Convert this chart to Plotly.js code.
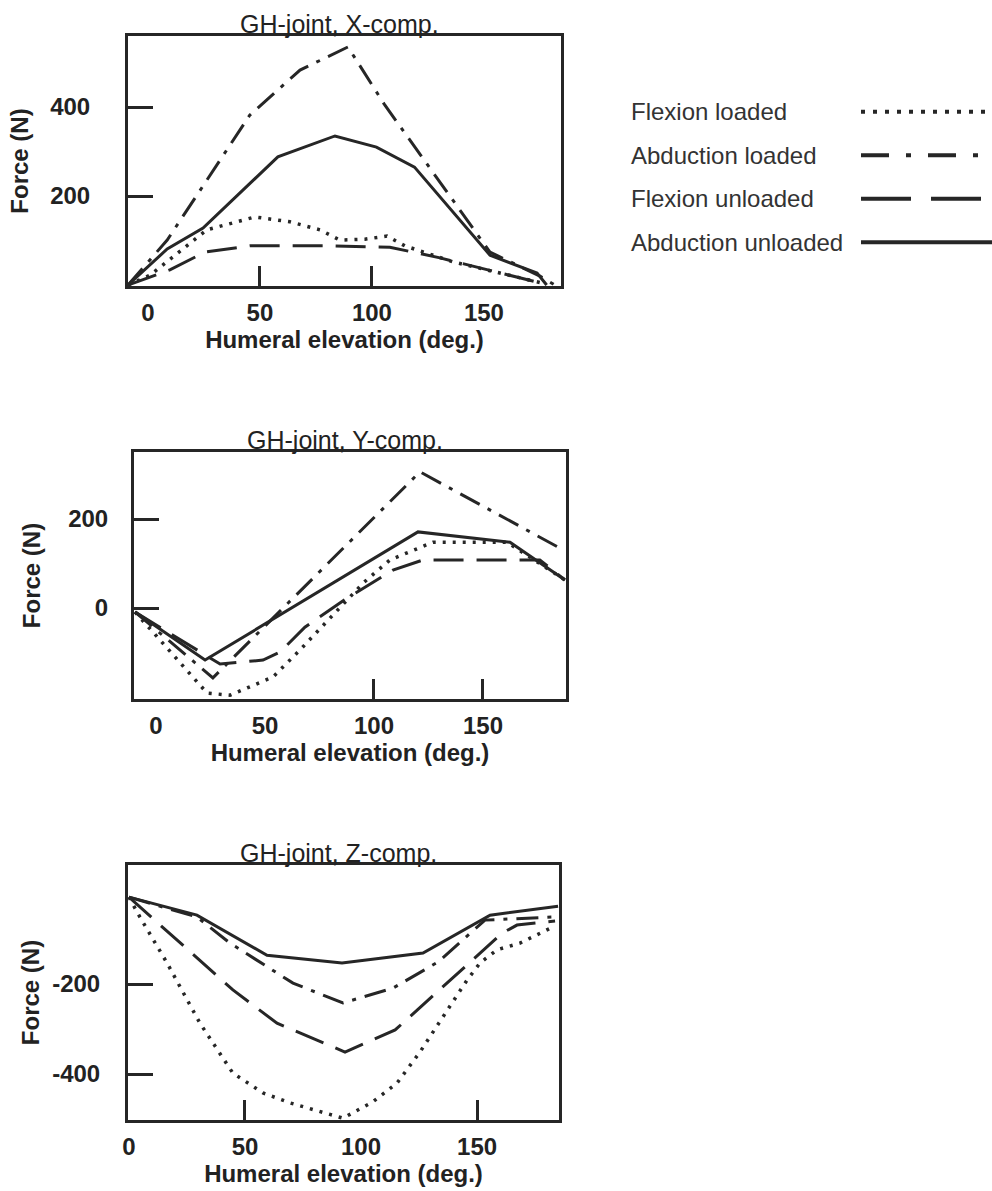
<!DOCTYPE html>
<html><head><meta charset="utf-8">
<script src="https://cdn.plot.ly/plotly-3.0.1.min.js"></script>
<style>html,body{margin:0;padding:0;background:#fff}#chart{width:992px;height:1191px}</style>
</head><body><div id="chart"></div>
<script>
const seriesNames = ["Flexion loaded", "Abduction loaded", "Flexion unloaded", "Abduction unloaded"];
const panelTitles = ["GH-joint, X-comp.", "GH-joint, Y-comp.", "GH-joint, Z-comp."];
const xAxisTitle = "Humeral elevation (deg.)";
const yAxisTitle = "Force (N)";
const xTickVals = [0, 50, 100, 150];
const yTickValsX = [200, 400];
const yTickValsY = [0, 200];
const yTickValsZ = [-400, -200];
const yTickTextZ = ["-400", "-200"];
const xMarkTicksX = [50, 100];
const xMarkTicksY = [100, 150];
const xMarkTicksZ = [50, 150];

// GH-joint, X-component
const xFlexLoadedAngle = [-8.9, 0.9, 26.3, 47.8, 63.4, 76.8, 85.7, 96.9, 106.7, 114.7, 136.2, 157.1, 176.3];
const xFlexLoadedForce = [0, 22, 124, 153, 142, 124, 101, 103, 110, 88, 52, 27, 4];
const xAbdLoadedAngle = [-8.9, 8.6, 45.5, 67.9, 89.3, 105.8, 152.7, 175, 181.7];
const xAbdLoadedForce = [0, 101, 382, 483, 535, 404, 74, 20, 0];
const xFlexUnloadedAngle = [-8.9, 9.8, 25.4, 45.5, 81.3, 108, 130.4, 148.2, 166, 177.2];
const xFlexUnloadedForce = [0, 34, 74, 88, 88, 85, 61, 38, 16, 2];
const xAbdUnloadedAngle = [-8.9, 8.6, 24.6, 58, 83.5, 102, 119, 152.7, 173.7, 178];
const xAbdUnloadedForce = [0, 81, 128, 288, 335, 310, 265, 67, 27, 0];

// GH-joint, Y-component
const yFlexLoadedAngle = [-9.6, 23.4, 33.9, 53.7, 66.1, 95, 107.3, 127.1, 161, 187.6];
const yFlexLoadedForce = [-9, -191, -196, -155, -94, 56, 108, 148, 148, 63];
const yAbdLoadedAngle = [-9.6, 26.1, 121.1, 184.4];
const yAbdLoadedForce = [-9, -157, 306, 137];
const yFlexUnloadedAngle = [-9.6, 29.4, 49.1, 56.9, 68.3, 87.6, 108.7, 122.5, 176.1, 187.6];
const yFlexUnloadedForce = [-9, -126, -117, -99, -43, 22, 85, 108, 108, 63];
const yAbdUnloadedAngle = [-9.6, 22.5, 120.2, 162.4, 187.6];
const yAbdUnloadedForce = [-9, -117, 171, 148, 63];

// GH-joint, Z-component
const zFlexLoadedAngle = [0, 4.7, 16.4, 30.6, 44.8, 57.8, 69.4, 87.9, 92.2, 105, 115.5, 125.4, 135.3, 145.7, 151.3, 158.6, 168.5, 182.8];
const zFlexLoadedForce = [-7, -51, -153, -287, -398, -442, -464, -491, -498, -462, -420, -351, -273, -191, -153, -124, -109, -73];
const zAbdLoadedAngle = [0, 29.3, 43.5, 70.7, 92.2, 113.8, 133.2, 153.4, 183.6];
const zAbdLoadedForce = [-7, -51, -109, -198, -242, -209, -151, -58, -51];
const zFlexUnloadedAngle = [0, 16.8, 44.8, 63.8, 93.1, 114.7, 143.5, 160.8, 167.2, 183.6];
const zFlexUnloadedForce = [-7, -84, -213, -287, -351, -302, -169, -87, -69, -60];
const zAbdUnloadedAngle = [0, 29.3, 59.5, 91.8, 126.7, 155.6, 184.9];
const zAbdUnloadedForce = [-7, -47, -136, -153, -131, -47, -27];

const W = 992, H = 1191;
const FONT = "Liberation Sans, Arial, sans-serif";
const LC = "#262626";
const TC = "#222222";
const lineDash = ["3px,7px", "22px,9px,4px,9px", "30px,13px", "solid"];
const lineWidth = [3.5, 3, 3, 3];
const legendDash = ["4px,8px", "28px,17px,5px,17px", "50px,20px", "solid"];

const fx = p => p / W;
const fy = p => 1 - p / H;

const panels = [
  {xa: "x", ya: "y", frame: [128, 561, 36, 286], xr: [-8.9, 184.4], yr: [-2.2, 559.6], yt: yTickValsX, ytt: null, mt: xMarkTicksX, titleX: 339, ylabStand: 30, ytitleStand: 15,
   data: [[xFlexLoadedAngle, xFlexLoadedForce], [xAbdLoadedAngle, xAbdLoadedForce], [xFlexUnloadedAngle, xFlexUnloadedForce], [xAbdUnloadedAngle, xAbdUnloadedForce]]},
  {xa: "x2", ya: "y2", frame: [134, 566, 452, 699], xr: [-10.1, 188.1], yr: [-204.5, 350.6], yt: yTickValsY, ytt: null, mt: xMarkTicksY, titleX: 345, ylabStand: 18, ytitleStand: 21,
   data: [[yFlexLoadedAngle, yFlexLoadedForce], [yAbdLoadedAngle, yAbdLoadedForce], [yFlexUnloadedAngle, yFlexUnloadedForce], [yAbdUnloadedAngle, yAbdUnloadedForce]]},
  {xa: "x3", ya: "y3", frame: [128, 559, 865, 1120], xr: [-0.4, 185.3], yr: [-502, 64.4], yt: yTickValsZ, ytt: yTickTextZ, mt: xMarkTicksZ, titleX: 338, ylabStand: 20, ytitleStand: 6,
   data: [[zFlexLoadedAngle, zFlexLoadedForce], [zAbdLoadedAngle, zAbdLoadedForce], [zFlexUnloadedAngle, zFlexUnloadedForce], [zAbdUnloadedAngle, zAbdUnloadedForce]]}
];

const traces = [];
const layout = {
  width: W, height: H, margin: {l: 0, r: 0, t: 0, b: 0},
  paper_bgcolor: "#ffffff", plot_bgcolor: "rgba(0,0,0,0)",
  showlegend: false, annotations: [], font: {family: FONT, color: TC}
};

panels.forEach((p, k) => {
  const n = k + 1;
  const xKey = n === 1 ? "xaxis" : "xaxis" + n;
  const yKey = n === 1 ? "yaxis" : "yaxis" + n;
  const [l, r, t, b] = p.frame;
  p.data.forEach((d, i) => {
    traces.push({x: d[0], y: d[1], xaxis: p.xa, yaxis: p.ya, mode: "lines", name: seriesNames[i],
      line: {color: LC, width: lineWidth[i], dash: lineDash[i]}, hoverinfo: "skip"});
  });
  layout[xKey] = {
    domain: [fx(l), fx(r)], range: p.xr, anchor: p.ya,
    showline: true, mirror: true, linecolor: LC, linewidth: 3,
    tickmode: "array", tickvals: xTickVals, ticks: "",
    tickfont: {family: FONT, size: 24, weight: 700, color: TC}, ticklabelstandoff: 3,
    showgrid: false, zeroline: false, fixedrange: true,
    title: {text: xAxisTitle, font: {family: FONT, size: 24, weight: 700, color: TC}, standoff: 2}
  };
  const ya = {
    domain: [fy(b), fy(t)], range: p.yr, anchor: p.xa,
    showline: true, mirror: true, linecolor: LC, linewidth: 3,
    tickmode: "array", tickvals: p.yt, ticks: "inside", ticklen: 25, tickwidth: 3, tickcolor: LC,
    tickfont: {family: FONT, size: 24, weight: 700, color: TC}, ticklabelstandoff: p.ylabStand,
    showgrid: false, zeroline: false, fixedrange: true,
    title: {text: yAxisTitle, font: {family: FONT, size: 24, weight: 700, color: TC}, standoff: p.ytitleStand}
  };
  if (p.ytt) ya.ticktext = p.ytt;
  layout[yKey] = ya;
  // overlay axis that carries only the visible tick marks of the x axis
  const oKey = "xaxis" + (n + 3);
  layout[oKey] = {
    overlaying: p.xa, anchor: p.ya, range: p.xr, side: "bottom",
    tickmode: "array", tickvals: p.mt, ticks: "inside", ticklen: 20, tickwidth: 3, tickcolor: LC,
    showticklabels: false, showline: false, showgrid: false, zeroline: false, fixedrange: true
  };
  traces.push({x: [], y: [], xaxis: "x" + (n + 3), yaxis: p.ya, mode: "lines", hoverinfo: "skip"});
  layout.annotations.push({
    text: panelTitles[k], xref: "paper", yref: "paper", x: fx(p.titleX), y: fy(t),
    xanchor: "center", yanchor: "bottom", yshift: -4, showarrow: false,
    font: {family: FONT, size: 25, color: TC}
  });
});

// legend drawn on its own small axis pair
layout.xaxis7 = {domain: [fx(861), 1], range: [0, 1], anchor: "y7", visible: false, fixedrange: true};
layout.yaxis7 = {domain: [fy(264), fy(90)], type: "category", categoryorder: "array", categoryarray: seriesNames,
  range: [3.5, -0.5], anchor: "x7", visible: false, fixedrange: true};
seriesNames.forEach((nm, i) => {
  traces.push({x: [0, 1], y: [nm, nm], xaxis: "x7", yaxis: "y7", mode: "lines",
    line: {color: LC, width: 4, dash: legendDash[i]}, hoverinfo: "skip", cliponaxis: false});
  layout.annotations.push({text: nm, xref: "paper", yref: "y7", x: fx(629), y: i,
    xanchor: "left", yanchor: "middle", showarrow: false,
    font: {family: FONT, size: 24, color: "#333333"}});
});

Plotly.newPlot("chart", traces, layout, {staticPlot: true, displayModeBar: false});
</script>
</body></html>
